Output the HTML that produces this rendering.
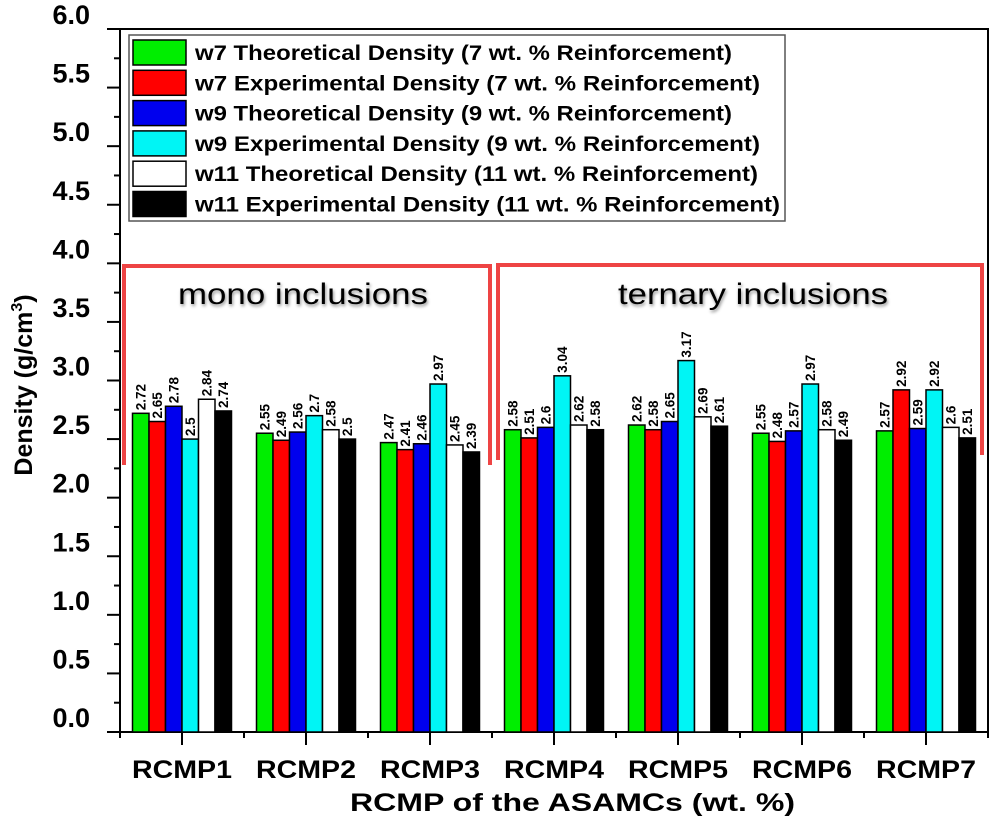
<!DOCTYPE html>
<html><head><meta charset="utf-8"><style>
html,body{margin:0;padding:0;background:#fff;}
svg{display:block;font-family:"Liberation Sans",Arial,sans-serif;}
</style></head><body>
<svg id="chart" width="993" height="831" viewBox="0 0 993 831">
<defs><filter id="sh" x="-10%" y="-30%" width="120%" height="160%"><feDropShadow dx="1" dy="2" stdDeviation="1.5" flood-color="#000" flood-opacity="0.45"/></filter></defs>
<g id="plot"></g>
</svg>
<script>
const categories=["RCMP1","RCMP2","RCMP3","RCMP4","RCMP5","RCMP6","RCMP7"];
const seriesNames=["w7 Theoretical Density (7 wt. % Reinforcement)","w7 Experimental  Density (7 wt. % Reinforcement)","w9 Theoretical Density (9 wt. % Reinforcement)","w9 Experimental  Density (9 wt. % Reinforcement)","w11 Theoretical Density (11 wt. % Reinforcement)","w11 Experimental Density (11 wt. % Reinforcement)"];
const seriesColors=["#00ee00","#ff0000","#0000ee","#00f5f5","#ffffff","#000000"];
const w7Theo=[2.72,2.55,2.47,2.58,2.62,2.55,2.57];
const w7Exp=[2.65,2.49,2.41,2.51,2.58,2.48,2.92];
const w9Theo=[2.78,2.56,2.46,2.6,2.65,2.57,2.59];
const w9Exp=[2.5,2.7,2.97,3.04,3.17,2.97,2.92];
const w11Theo=[2.84,2.58,2.45,2.62,2.69,2.58,2.6];
const w11Exp=[2.74,2.5,2.39,2.58,2.61,2.49,2.51];
const yTicks=["0.0","0.5","1.0","1.5","2.0","2.5","3.0","3.5","4.0","4.5","5.0","5.5","6.0"];
const legendLen=[537,565,537,565,563,585];

const NS="http://www.w3.org/2000/svg";
const g=document.getElementById('plot');
const X0=120,X1=988,Y0=732,Y1=29,YMAX=6;
const groupW=(X1-X0)/categories.length;
function y(v){return Y0-(v/YMAX)*(Y0-Y1);}
function xc(i){return X0+groupW*(i+0.5);}
function el(t,a,txt){const e=document.createElementNS(NS,t);for(const k in a)e.setAttribute(k,a[k]);if(txt!==undefined)e.textContent=txt;g.appendChild(e);return e;}

let fr=el('rect',{x:X0,y:Y1,width:X1-X0,height:Y0-Y1,fill:'none',stroke:'#000','stroke-width':2});



for(let i=0;i<yTicks.length;i++){
  const v=parseFloat(yTicks[i]);
  const t=el('line',{x1:X0-13,x2:X0,y1:y(v),y2:y(v),stroke:'#000','stroke-width':2});
  
  
  if(i<yTicks.length-1){
    const m=el('line',{x1:X0-6,x2:X0,y1:y(v+0.25),y2:y(v+0.25),stroke:'#000','stroke-width':2});
    
    
  }
  const l=el('text',{x:90,y:y(v)-5,'text-anchor':'end','font-size':27,'font-weight':'bold'},yTicks[i]);
  
  
}
for(let i=0;i<=categories.length;i++){
  const t=el('line',{x1:X0+groupW*i,x2:X0+groupW*i,y1:Y0,y2:Y0+6,stroke:'#000','stroke-width':2});
  
  
}
const allSeries=[w7Theo,w7Exp,w9Theo,w9Exp,w11Theo,w11Exp];
const barW=16.5;
categories.forEach((c,i)=>{
  const t=el('line',{x1:xc(i),x2:xc(i),y1:Y0,y2:Y0+13,stroke:'#000','stroke-width':2});
  
  
  const l=el('text',{x:xc(i)-50,y:Y0+46,'font-size':25,'font-weight':'bold',textLength:100,lengthAdjust:'spacingAndGlyphs'},c);
  
  
  allSeries.forEach((s,j)=>{
    const bx=xc(i)-3*barW+j*barW;
    const r=el('rect',{x:bx,y:y(s[i]),width:barW,height:Y0-y(s[i]),fill:seriesColors[j],stroke:'#000','stroke-width':1.5});
    
    
    const tx=bx+barW/2+5, ty=y(s[i])-3;
    const v=el('text',{x:tx,y:ty,'font-size':13.5,'font-weight':'bold',transform:`rotate(-90 ${tx} ${ty})`},String(s[i]));
    
    
  });
});

const lg=el('rect',{x:129,y:35,width:656,height:186,fill:'#fff',stroke:'#555','stroke-width':1.5});


seriesNames.forEach((n,j)=>{
  const ry=40+j*30.3;
  const s=el('rect',{x:133,y:ry,width:53,height:25,fill:seriesColors[j],stroke:'#000','stroke-width':1.5});
  
  
  const t=el('text',{x:195,y:ry+20,'font-size':21,'font-weight':'bold',textLength:legendLen[j],lengthAdjust:'spacingAndGlyphs'},n);
  
  
});

const b1=el('path',{d:'M124 465 V266 H490 V465',fill:'none',stroke:'#ee4444','stroke-width':4});


const b2=el('path',{d:'M498 460 V265 H982 V455',fill:'none',stroke:'#ee4444','stroke-width':4});


const m1=el('text',{x:178,y:304,'font-size':30,textLength:250,lengthAdjust:'spacingAndGlyphs',filter:'url(#sh)'},'mono inclusions');


const m2=el('text',{x:618,y:304,'font-size':30,textLength:270,lengthAdjust:'spacingAndGlyphs',filter:'url(#sh)'},'ternary inclusions');



const xt=el('text',{x:350,y:811,'font-size':25,'font-weight':'bold',textLength:445,lengthAdjust:'spacingAndGlyphs'},'RCMP of the ASAMCs (wt. %)');


const yt=el('text',{x:0,y:0,'text-anchor':'middle','font-size':25,'font-weight':'bold',transform:'translate(32 385) rotate(-90)'});


yt.innerHTML='Density (g/cm<tspan dy="-10" font-size="16">3</tspan><tspan dy="10">)</tspan>';
</script>
</body></html>
